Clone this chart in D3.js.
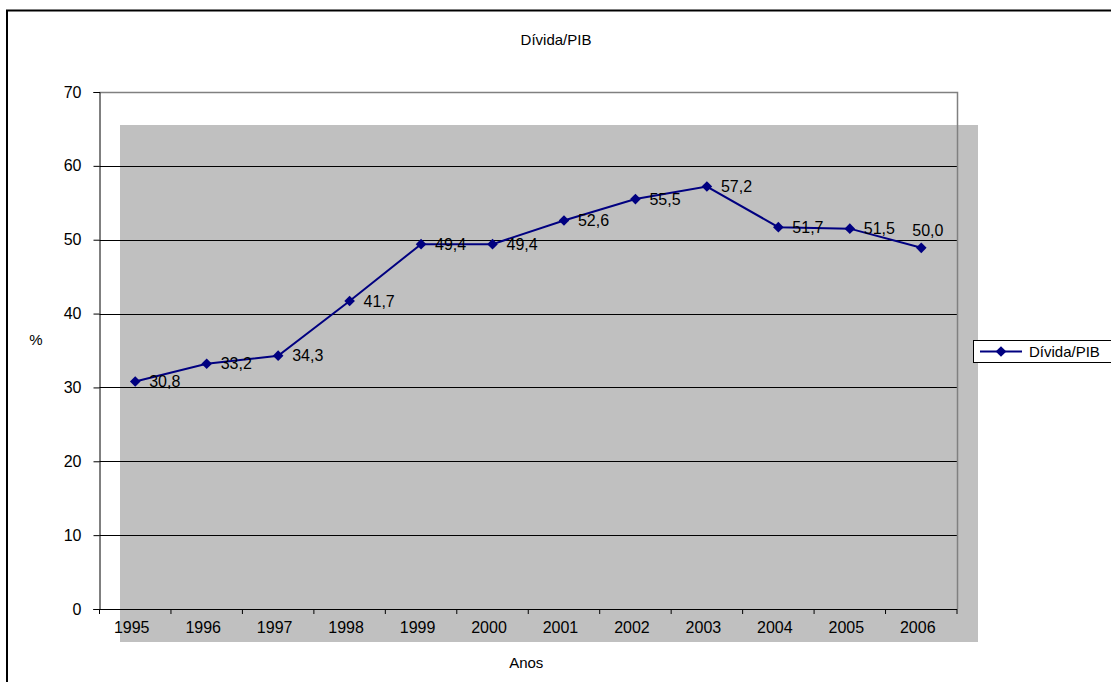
<!DOCTYPE html>
<html>
<head>
<meta charset="utf-8">
<script src="https://cdn.jsdelivr.net/npm/d3@7"></script>
<style>
  html, body { margin: 0; padding: 0; background: #fff; }
  svg { display: block; font-family: "Liberation Sans", Arial, sans-serif; }
</style>
</head>
<body>
<svg id="chart" width="1111" height="682"></svg>
<script>
// data
const years  = ['1995', '1996', '1997', '1998', '1999', '2000', '2001', '2002', '2003', '2004', '2005', '2006'];
const values = [30.8, 33.2, 34.3, 41.7, 49.4, 49.4, 52.6, 55.5, 57.2, 51.7, 51.5, 48.9];
const labels = ['30,8', '33,2', '34,3', '41,7', '49,4', '49,4', '52,6', '55,5', '57,2', '51,7', '51,5', '50,0'];
const yTicks = [0, 10, 20, 30, 40, 50, 60, 70];
const seriesName = 'Dívida/PIB';

const svg = d3.select('#chart');
const plot = { left: 99.5, right: 957, top: 92, bottom: 609 };
const NAVY = '#000080';
const FS = 16;

// outer chart border (runs off the right/bottom edge)
svg.append('rect')
    .attr('x', 7).attr('y', 10.5).attr('width', 1300).attr('height', 900)
    .attr('fill', '#fff').attr('stroke', '#000').attr('stroke-width', 2);

const x = d3.scaleBand().domain(years).range([plot.left, plot.right]);
const y = d3.scaleLinear().domain([0, 70]).range([plot.bottom, plot.top]);
const cx = d => x(d) + x.bandwidth() / 2;

// gray block (offset from the plot frame, as in the original)
svg.append('rect')
    .attr('x', 120).attr('y', 125).attr('width', 858).attr('height', 517)
    .attr('fill', '#c0c0c0');

// gridlines
svg.append('g').selectAll('line')
    .data(yTicks.filter(v => v > 0 && v < 70))
    .join('line')
    .attr('x1', plot.left).attr('x2', plot.right)
    .attr('y1', d => Math.round(y(d)) + 0.5).attr('y2', d => Math.round(y(d)) + 0.5)
    .attr('stroke', '#000').attr('stroke-width', 1);

// plot frame (top + right)
svg.append('path')
    .attr('d', `M${plot.left},${plot.top + 0.5}H${plot.right + 0.5}V${plot.bottom}`)
    .attr('fill', 'none').attr('stroke', '#808080').attr('stroke-width', 1.5);

// y axis
const gy = svg.append('g')
    .attr('transform', `translate(${plot.left},0)`)
    .call(d3.axisLeft(y).tickValues(yTicks).tickSize(6).tickPadding(12));
gy.select('.domain').attr('stroke', '#000');
gy.selectAll('.tick line').attr('stroke', '#000');
gy.selectAll('.tick text').attr('font-size', FS).attr('fill', '#000')
    .attr('font-family', '"Liberation Sans", Arial, sans-serif');

// x axis: ticks between categories
const gx = svg.append('g').attr('transform', `translate(0,${plot.bottom})`);
gx.append('line')
    .attr('x1', plot.left - 6).attr('x2', plot.right)
    .attr('y1', 0.5).attr('y2', 0.5).attr('stroke', '#000');
gx.selectAll('.tk')
    .data(years.map(d => x(d)).concat([plot.right]))
    .join('line').attr('class', 'tk')
    .attr('x1', d => d).attr('x2', d => d)
    .attr('y1', 0).attr('y2', 5).attr('stroke', '#000');
gx.selectAll('text')
    .data(years).join('text')
    .attr('x', d => cx(d) - 3.5).attr('y', 24)
    .attr('text-anchor', 'middle').attr('font-size', FS).attr('fill', '#000')
    .text(d => d);

// titles
svg.append('text').attr('x', 556).attr('y', 45).attr('text-anchor', 'middle')
    .attr('font-size', 15).text(seriesName);
svg.append('text').attr('x', (plot.left + plot.right) / 2 - 2).attr('y', 668).attr('text-anchor', 'middle')
    .attr('font-size', 15).text('Anos');
svg.append('text').attr('x', 36).attr('y', 345).attr('text-anchor', 'middle')
    .attr('font-size', 15).text('%');

// series
const pts = years.map((d, i) => ({ year: d, v: values[i], label: labels[i] }));
const line = d3.line().x(d => cx(d.year)).y(d => y(d.v));
svg.append('path').datum(pts)
    .attr('fill', 'none').attr('stroke', NAVY).attr('stroke-width', 2)
    .attr('d', line);

const diamond = d3.symbol().type(d3.symbolDiamond2).size(72);
svg.selectAll('.mk').data(pts).join('path').attr('class', 'mk')
    .attr('transform', d => `translate(${cx(d.year)},${y(d.v)})`)
    .attr('d', diamond).attr('fill', NAVY);

svg.selectAll('.lbl').data(pts).join('text').attr('class', 'lbl')
    .attr('x', (d, i) => cx(d.year) + (i === pts.length - 1 ? -9 : 14))
    .attr('y', (d, i) => y(d.v) + (i === pts.length - 1 ? -12 : 5.5))
    .attr('font-size', FS).attr('fill', '#000')
    .text(d => d.label);

// legend
const lg = svg.append('g').attr('transform', 'translate(973,340)');
lg.append('rect').attr('x', 0.5).attr('y', 0.5).attr('width', 200).attr('height', 22)
    .attr('fill', '#fff').attr('stroke', '#000');
lg.append('line').attr('x1', 7).attr('x2', 49).attr('y1', 11.5).attr('y2', 11.5)
    .attr('stroke', NAVY).attr('stroke-width', 2);
lg.append('path').attr('transform', 'translate(28,11.5)').attr('d', diamond).attr('fill', NAVY);
lg.append('text').attr('x', 56).attr('y', 16.5).attr('font-size', 15).text(seriesName);
</script>
</body>
</html>
